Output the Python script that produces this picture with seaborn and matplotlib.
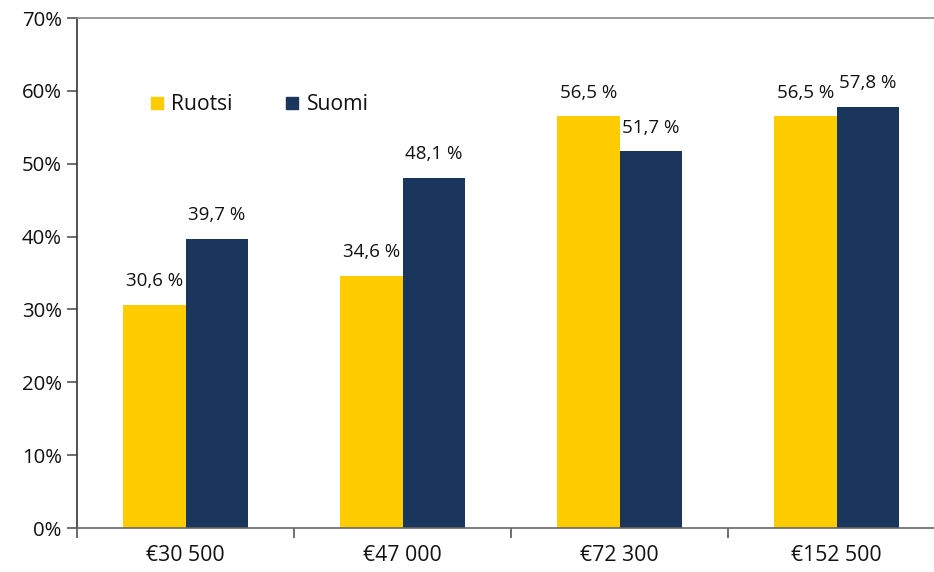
import matplotlib
matplotlib.use('Agg')
import matplotlib.pyplot as plt
import numpy as np
import pandas as pd
import seaborn as sns
from matplotlib.lines import Line2D
from matplotlib.ticker import FixedLocator, FuncFormatter

categories = ['€30 500', '€47 000', '€72 300', '€152 500']
ruotsi = [0.306, 0.346, 0.565, 0.565]
suomi = [0.397, 0.481, 0.517, 0.578]
series = ['Ruotsi', 'Suomi']
colors = ['#FFCC00', '#1B365D']

df = pd.DataFrame({
    'tulo': categories * 2,
    'osuus': ruotsi + suomi,
    'maa': ['Ruotsi'] * 4 + ['Suomi'] * 4,
})

sns.set_style('white')
plt.rcParams['font.family'] = ['Open Sans', 'DejaVu Sans']
plt.rcParams['text.color'] = '#111111'
plt.rcParams['xtick.color'] = '#111111'
plt.rcParams['ytick.color'] = '#111111'

fig = plt.figure(figsize=(9.34, 5.72), dpi=100)
ax = fig.add_axes([77 / 934, 1 - 528 / 572, 868 / 934, 510 / 572])

sns.barplot(data=df, x='tulo', y='osuus', hue='maa', palette=colors,
            width=0.572, gap=0, saturation=1, linewidth=0, ax=ax, legend=False)

for cont, vals in zip(ax.containers, [ruotsi, suomi]):
    for bar, v in zip(cont, vals):
        ax.annotate(f'{v * 100:.1f} %'.replace('.', ','),
                    (bar.get_x() + bar.get_width() / 2, v),
                    xytext=(0, 17), textcoords='offset points',
                    ha='center', va='center', fontsize=13.5)

ax.set_xlim(-0.5, 3.5)
ax.set_ylim(0, 0.7)
ax.set_yticks(np.arange(0, 0.71, 0.1))
ax.yaxis.set_major_formatter(FuncFormatter(lambda v, p: f'{v * 100:.0f}%'))
ax.xaxis.set_minor_locator(FixedLocator([-0.5, 0.5, 1.5, 2.5]))
ax.tick_params(axis='x', which='major', length=0, labelsize=15.3, pad=12)
ax.tick_params(axis='x', which='minor', length=7, width=1.2, color='#555555', bottom=True)
ax.tick_params(axis='y', length=7, width=1.2, color='#555555', labelsize=14.7, left=True, pad=4)
ax.set_xlabel('')
ax.set_ylabel('')

ax.spines['right'].set_visible(False)
ax.spines['top'].set_color('#888888')
ax.spines['left'].set_color('#333333')
ax.spines['bottom'].set_color('#666666')
for s in ['top', 'left', 'bottom']:
    ax.spines[s].set_linewidth(1.2)

handles = [Line2D([], [], marker='s', linestyle='', markersize=9, color=c) for c in colors]
ax.legend(handles, series, loc='center left', bbox_to_anchor=(0.06, 0.83), ncol=2,
          frameon=False, fontsize=15.2, handlelength=0.8, handletextpad=0.3,
          columnspacing=2.4)

fig.savefig('out.png', dpi=100)
